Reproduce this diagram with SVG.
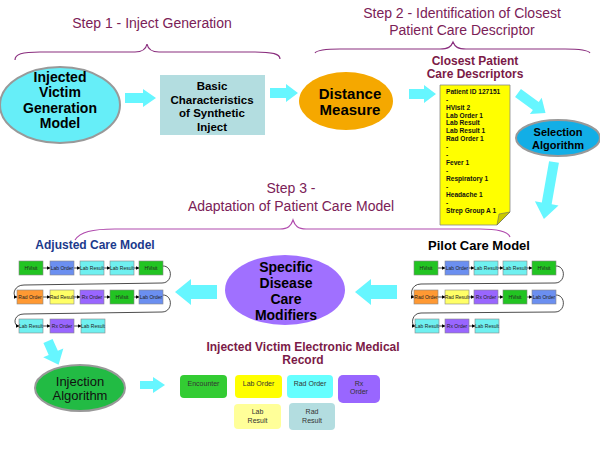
<svg xmlns="http://www.w3.org/2000/svg" width="600" height="450" viewBox="0 0 600 450">
<defs>
<style>
text{font-family:"Liberation Sans",Arial,sans-serif;}
.step{font-size:14px;fill:#7b2157;text-anchor:middle;}
.hd{font-size:12px;font-weight:bold;fill:#7b1a47;text-anchor:middle;}
.big{font-size:14px;font-weight:bold;fill:#000;text-anchor:middle;}
.brace{fill:none;stroke:#8a2e7e;stroke-width:1.2;}
.fat{fill:#66f6ff;}
.ell{stroke:#999;stroke-width:2;}
.cb{stroke:#888;stroke-width:0.6;}
.ct{font-size:5px;fill:#222;text-anchor:middle;}
.hv{fill:#22c422;}.lo{fill:#6b8ff0;}.lr{fill:#6ff0f0;}.ro{fill:#ff9933;}.rr{fill:#ffff66;}.rx{fill:#9966ff;}
.con{fill:none;stroke:#000;stroke-width:0.7;marker-end:url(#ah);}
.et{font-size:7px;fill:#333;text-anchor:middle;}
.nt{font-size:6.6px;font-weight:bold;fill:#111;}
</style>
<marker id="ah" viewBox="0 0 6 6" refX="5" refY="3" markerWidth="4" markerHeight="4" orient="auto" markerUnits="userSpaceOnUse"><path d="M0,0 L6,3 L0,6 Z" fill="#000"/></marker>
</defs>
<rect width="600" height="450" fill="#fff"/>

<!-- titles and braces -->
<g id="step1">
<text class="step" x="152" y="28">Step 1 - Inject Generation</text>
<path class="brace" d="M15,60 C15,54 22,52 40,52 L135,52 C143,52 146,49 147,44 C148,49 151,52 159,52 L255,52 C273,52 280,54 280,59"/>
</g>
<g id="step2">
<text class="step" x="462" y="18">Step 2 - Identification of Closest</text>
<text class="step" x="462" y="35">Patient Care Descriptor</text>
<path class="brace" d="M315,53 C317,50 325,49 340,49 L440,49 C448,49 451,47 453,42 C455,47 458,49 466,49 L565,49 C580,49 588,50 590,53"/>
</g>
<g id="step3">
<text class="step" x="291" y="193">Step 3 -</text>
<text class="step" x="291" y="211">Adaptation of Patient Care Model</text>
<path class="brace" style="stroke:#b04aad" d="M75,240 C80,232 92,229 115,229 L280,229 C288,229 291,226 293,220 C295,226 298,229 306,229 L480,229 C500,229 508,232 510,237"/>
</g>

<!-- connectors: fat arrows and small chain arrows -->
<g id="connectors">
<path class="fat" d="M125,93 H143 V89 L156,98 L143,107 V103 H125 Z"/>
<path class="fat" d="M270,88 H286 V84 L298,93 L286,102 V98 H270 Z"/>
<path class="fat" d="M409,89 H424 V85 L436,94 L424,103 V99 H409 Z"/>
<path class="fat" transform="translate(518,93) rotate(36)" d="M0,-5 H22 V-10 L34,0 L22,10 V5 H0 Z"/>
<path class="fat" transform="translate(554,162) rotate(100)" d="M0,-5 H42 V-12 L58,0 L42,12 V5 H0 Z"/>
<path class="fat" transform="translate(217,292) rotate(180)" d="M0,-7 H26 V-13 L42,0 L26,13 V7 H0 Z"/>
<path class="fat" transform="translate(397,292) rotate(180)" d="M0,-7 H26 V-13 L42,0 L26,13 V7 H0 Z"/>
<path class="fat" transform="translate(48,341) rotate(66)" d="M0,-5 H13 V-11 L26,0 L13,11 V5 H0 Z"/>
<path class="fat" d="M140,381 H153 V377 L165,385 L153,393 V389 H140 Z"/>

<!-- adjusted chain arrows -->
<line class="con" x1="43" y1="268" x2="50" y2="268"/>
<line class="con" x1="74" y1="268" x2="80" y2="268"/>
<line class="con" x1="104" y1="268" x2="110" y2="268"/>
<line class="con" x1="134" y1="268" x2="139" y2="268"/>
<path class="con" d="M163,266 C173,266 173,283 162,283 L24,285 C13,285 12,297 17,297"/>
<line class="con" x1="43" y1="297" x2="50" y2="297"/>
<line class="con" x1="74" y1="297" x2="80" y2="297"/>
<line class="con" x1="104" y1="297" x2="110" y2="297"/>
<line class="con" x1="134" y1="297" x2="139" y2="297"/>
<path class="con" d="M163,295 C173,295 173,312 162,312 L24,314 C13,314 13,326 19,326"/>
<line class="con" x1="43" y1="326" x2="50" y2="326"/>
<line class="con" x1="74" y1="326" x2="81" y2="326"/>

<!-- pilot chain arrows -->
<line class="con" x1="438" y1="268" x2="445" y2="268"/>
<line class="con" x1="469" y1="268" x2="474" y2="268"/>
<line class="con" x1="498" y1="268" x2="503" y2="268"/>
<line class="con" x1="527" y1="268" x2="532" y2="268"/>
<path class="con" d="M556,266 C566,266 566,283 555,283 L421,284 C410,284 410,297 414,297"/>
<line class="con" x1="438" y1="297" x2="445" y2="297"/>
<line class="con" x1="469" y1="297" x2="474" y2="297"/>
<line class="con" x1="498" y1="297" x2="503" y2="297"/>
<line class="con" x1="527" y1="297" x2="532" y2="297"/>
<path class="con" d="M556,295 C566,295 566,312 555,312 L421,313 C411,313 411,326 415,326"/>
<line class="con" x1="439" y1="326" x2="445" y2="326"/>
<line class="con" x1="469" y1="326" x2="475" y2="326"/>
</g>

<!-- nodes -->
<g id="injected-victim-generation-model">
<ellipse class="ell" cx="60" cy="105" rx="60" ry="38" fill="#66eef8"/>
<text class="big" x="60" y="82">Injected</text>
<text class="big" x="60" y="97">Victim</text>
<text class="big" x="60" y="113">Generation</text>
<text class="big" x="60" y="128">Model</text>
</g>

<g id="basic-characteristics">
<rect x="160" y="75" width="105" height="60" fill="#b3dde0"/>
<text class="big" style="font-size:11.5px" x="212" y="90">Basic</text>
<text class="big" style="font-size:11.5px" x="212" y="104">Characteristics</text>
<text class="big" style="font-size:11.5px" x="212" y="117">of Synthetic</text>
<text class="big" style="font-size:11.5px" x="212" y="131">Inject</text>
</g>

<g id="distance-measure">
<ellipse cx="346" cy="101" rx="47" ry="29" fill="#f5a800"/>
<text class="big" style="font-size:15px" x="350" y="99">Distance</text>
<text class="big" style="font-size:15px" x="350" y="115">Measure</text>
</g>

<g id="closest-patient-care-descriptors">
<text class="hd" x="475" y="65">Closest Patient</text>
<text class="hd" x="475" y="78">Care Descriptors</text>
<path d="M440,85 H510 V212 L497,225 H440 Z" fill="#ffff00" stroke="#888" stroke-width="0.8"/>
<path d="M510,212 L497,225 L499,214 Z" fill="#c8c800" stroke="#666" stroke-width="0.6"/>
<text class="nt" x="446" y="94">Patient ID 127151</text>
<text class="nt" x="446" y="102">-</text>
<text class="nt" x="446" y="110">HVisit 2</text>
<text class="nt" x="446" y="117.5">Lab Order 1</text>
<text class="nt" x="446" y="125">Lab Result</text>
<text class="nt" x="446" y="133">Lab Result 1</text>
<text class="nt" x="446" y="141">Rad Order 1</text>
<text class="nt" x="446" y="149">-</text>
<text class="nt" x="446" y="157">-</text>
<text class="nt" x="446" y="165">Fever 1</text>
<text class="nt" x="446" y="173">-</text>
<text class="nt" x="446" y="181">Respiratory 1</text>
<text class="nt" x="446" y="189">-</text>
<text class="nt" x="446" y="197">Headache 1</text>
<text class="nt" x="446" y="205">-</text>
<text class="nt" x="446" y="213">Strep Group A 1</text>
</g>

<g id="selection-algorithm">
<ellipse class="ell" cx="558" cy="138" rx="42" ry="18" fill="#12aee6"/>
<text class="big" style="font-size:11px" x="558" y="136">Selection</text>
<text class="big" style="font-size:11px" x="558" y="149">Algorithm</text>
</g>

<g id="specific-disease-care-modifiers">
<ellipse cx="285" cy="290" rx="60" ry="35" fill="#a070ff"/>
<text class="big" x="286" y="272">Specific</text>
<text class="big" x="286" y="288">Disease</text>
<text class="big" x="286" y="304">Care</text>
<text class="big" x="286" y="320">Modifiers</text>
</g>

<g id="adjusted-care-model">
<text class="big" style="font-size:12px;fill:#1c3a8c" x="95" y="249">Adjusted Care Model</text>
<rect class="cb hv" x="19" y="261" width="24" height="14"/><text class="ct" x="31" y="270">HVisit</text>
<rect class="cb lo" x="50" y="261" width="24" height="14"/><text class="ct" x="62" y="270">Lab Order</text>
<rect class="cb lr" x="80" y="261" width="24" height="14"/><text class="ct" x="92" y="270">Lab Result</text>
<rect class="cb lr" x="110" y="261" width="24" height="14"/><text class="ct" x="122" y="270">Lab Result</text>
<rect class="cb hv" x="139" y="261" width="24" height="14"/><text class="ct" x="151" y="270">HVisit</text>
<rect class="cb ro" x="17" y="290" width="26" height="14"/><text class="ct" x="30" y="299">Rad Order</text>
<rect class="cb rr" x="50" y="290" width="24" height="14"/><text class="ct" x="62" y="299">Rad Result</text>
<rect class="cb rx" x="80" y="290" width="24" height="14"/><text class="ct" x="92" y="299">Rx Order</text>
<rect class="cb hv" x="110" y="290" width="24" height="14"/><text class="ct" x="122" y="299">HVisit</text>
<rect class="cb lo" x="139" y="290" width="24" height="14"/><text class="ct" x="151" y="299">Lab Order</text>
<rect class="cb lr" x="19" y="319" width="24" height="14"/><text class="ct" x="31" y="328">Lab Result</text>
<rect class="cb rx" x="50" y="319" width="24" height="14"/><text class="ct" x="62" y="328">Rx Order</text>
<rect class="cb lr" x="81" y="319" width="24" height="14"/><text class="ct" x="93" y="328">Lab Result</text>
</g>

<g id="pilot-care-model">
<text class="big" style="font-size:13px" x="479" y="250">Pilot Care Model</text>
<rect class="cb hv" x="414" y="261" width="24" height="14"/><text class="ct" x="426" y="270">HVisit</text>
<rect class="cb lo" x="445" y="261" width="24" height="14"/><text class="ct" x="457" y="270">Lab Order</text>
<rect class="cb lr" x="474" y="261" width="24" height="14"/><text class="ct" x="486" y="270">Lab Result</text>
<rect class="cb lr" x="503" y="261" width="24" height="14"/><text class="ct" x="515" y="270">Lab Result</text>
<rect class="cb hv" x="532" y="261" width="24" height="14"/><text class="ct" x="544" y="270">HVisit</text>
<rect class="cb ro" x="414" y="290" width="24" height="14"/><text class="ct" x="426" y="299">Rad Order</text>
<rect class="cb rr" x="445" y="290" width="24" height="14"/><text class="ct" x="457" y="299">Rad Result</text>
<rect class="cb rx" x="474" y="290" width="24" height="14"/><text class="ct" x="486" y="299">Rx Order</text>
<rect class="cb hv" x="503" y="290" width="24" height="14"/><text class="ct" x="515" y="299">HVisit</text>
<rect class="cb lo" x="532" y="290" width="24" height="14"/><text class="ct" x="544" y="299">Lab Order</text>
<rect class="cb lr" x="415" y="319" width="24" height="14"/><text class="ct" x="427" y="328">Lab Result</text>
<rect class="cb rx" x="445" y="319" width="24" height="14"/><text class="ct" x="457" y="328">Rx Order</text>
<rect class="cb lr" x="475" y="319" width="24" height="14"/><text class="ct" x="487" y="328">Lab Result</text>
</g>

<g id="injection-algorithm">
<ellipse class="ell" cx="80" cy="388" rx="45" ry="23" fill="#22bb44"/>
<text x="80" y="386" style="font-size:13px;text-anchor:middle;fill:#111">Injection</text>
<text x="80" y="400" style="font-size:13px;text-anchor:middle;fill:#111">Algorithm</text>
</g>

<g id="injected-victim-emr">
<text class="hd" x="303" y="351">Injected Victim Electronic Medical</text>
<text class="hd" x="303" y="364">Record</text>
<rect x="180" y="375" width="47" height="23" rx="4" fill="#33cc33"/><text class="et" x="203.5" y="386">Encounter</text>
<rect x="235" y="375" width="47" height="23" rx="4" fill="#ffff00"/><text class="et" x="258.5" y="386">Lab Order</text>
<rect x="287" y="375" width="46" height="23" rx="4" fill="#66ffff"/><text class="et" x="310" y="386">Rad Order</text>
<rect x="338" y="375" width="42" height="28" rx="5" fill="#9966ff"/><text class="et" x="359" y="386">Rx</text><text class="et" x="359" y="394">Order</text>
<rect x="234" y="404" width="47" height="25" rx="4" fill="#ffff99"/><text class="et" x="257.5" y="414">Lab</text><text class="et" x="257.5" y="423">Result</text>
<rect x="289" y="403" width="46" height="27" rx="4" fill="#b3dde0"/><text class="et" x="312" y="414">Rad</text><text class="et" x="312" y="423">Result</text>
</g>
</svg>
